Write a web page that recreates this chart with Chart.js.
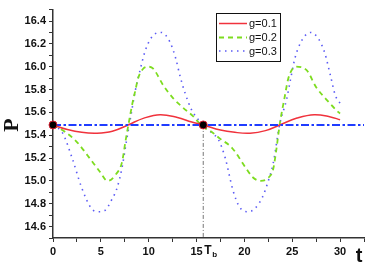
<!DOCTYPE html>
<html>
<head>
<meta charset="utf-8">
<script src="https://cdn.jsdelivr.net/npm/chart.js@4.4.1/dist/chart.umd.min.js"></script>
<style>
html, body { margin: 0; padding: 0; background: #fff; }
canvas { display: block; }
</style>
</head>
<body>
<canvas id="chart" width="382" height="268"></canvas>
<script>
const seriesLabels = ['g=0.1', 'g=0.2', 'g=0.3'];

const tRed = [0, 1.5, 3, 4.6, 6.2, 7.85, 9.5, 11.2, 13, 14.5, 15.7, 17.5, 19, 20.6, 22.2, 23.7, 25.5, 27.3, 29, 30];
const pRed = [15.49, 15.45, 15.425, 15.418, 15.435, 15.49, 15.55, 15.58, 15.555, 15.515, 15.49, 15.445, 15.425, 15.418, 15.44, 15.49, 15.55, 15.58, 15.56, 15.535];

const tGreen = [0, 1.25, 2.5, 4, 4.9, 5.7, 6.6, 7.2, 7.6, 7.9, 8.3, 8.6, 8.9, 9.4, 10, 10.5, 11.5, 12.5, 13.6, 14.6, 15.7, 16.4, 17.45, 18.7, 20.1, 20.9, 21.7, 22.4, 23, 23.3, 23.7, 24.2, 24.6, 25.4, 26.5, 27.5, 28.6, 29.6, 30];
const pGreen = [15.49, 15.43, 15.34, 15.18, 15.08, 15.0, 15.06, 15.16, 15.36, 15.5, 15.68, 15.79, 15.9, 15.98, 16.0, 15.98, 15.84, 15.73, 15.64, 15.57, 15.47, 15.44, 15.37, 15.29, 15.12, 15.03, 15.0, 15.02, 15.1, 15.25, 15.5, 15.73, 15.9, 16.0, 15.97, 15.82, 15.71, 15.62, 15.59];

const tBlue = [0, 1, 2, 3, 4, 4.7, 5.4, 6.1, 6.7, 7.2, 7.7, 8.2, 8.6, 9.1, 9.6, 10.1, 10.7, 11.3, 12.2, 12.8, 13.3, 13.8, 14.5, 15.7, 16.6, 17.3, 18, 18.8, 19.5, 20.3, 21, 21.9, 22.5, 23, 23.7, 24.4, 24.8, 25.3, 26, 26.9, 27.7, 28.4, 29, 29.5, 30];
const pBlue = [15.49, 15.42, 15.2, 14.94, 14.76, 14.73, 14.74, 14.83, 14.94, 15.11, 15.36, 15.6, 15.79, 15.97, 16.13, 16.23, 16.29, 16.3, 16.22, 16.08, 15.91, 15.77, 15.62, 15.49, 15.42, 15.36, 15.2, 14.92, 14.77, 14.73, 14.75, 14.86, 15.0, 15.15, 15.5, 15.71, 15.88, 16.08, 16.23, 16.3, 16.25, 16.12, 15.92, 15.75, 15.68];

const pEquilibrium = 15.49;
const tB = 15.7;
const tMax = 32.5;
const pMin = 14.5, pMax = 16.5;

function pts(ts, ps) {
    return ts.map((t, i) => ({ x: t, y: ps[i] }));
}

const colors = ['#f0323c', '#7ddc1f', '#5b5bf5'];
const dashes = [[], [5, 4], [1.5, 4.5]];
const widths = [1.5, 1.8, 1.6];
const series = [pts(tRed, pRed), pts(tGreen, pGreen), pts(tBlue, pBlue)];

const curveSets = series.map((data, i) => ({
    label: seriesLabels[i],
    data: data,
    borderColor: colors[i],
    borderWidth: widths[i],
    borderDash: dashes[i],
    pointRadius: 0,
    fill: false,
    // red is a plain smooth wave, the others have sharp turns
    tension: 0.4,
    cubicInterpolationMode: i === 0 ? 'default' : 'monotone',
    order: 2 + i
}));

const tickFont = { family: 'Liberation Sans', size: 11, weight: 'bold' };

// legend box, axis titles and the T_b label
const annotations = {
    id: 'annotations',
    afterDraw(chart) {
        const c = chart.ctx;
        c.save();
        // legend
        c.strokeStyle = '#111';
        c.lineWidth = 1;
        c.strokeRect(216.5, 13.5, 64, 48);
        c.font = '11px "Liberation Sans"';
        c.textBaseline = 'middle';
        c.fillStyle = '#111';
        const ys = [23.5, 37.5, 51];
        curveSets.forEach((ds, i) => {
            c.beginPath();
            c.setLineDash(ds.borderDash);
            c.strokeStyle = ds.borderColor;
            c.lineWidth = ds.borderWidth;
            c.moveTo(219, ys[i]);
            c.lineTo(247, ys[i]);
            c.stroke();
            c.fillText(ds.label, 249, ys[i] + 0.5);
        });
        c.setLineDash([]);
        // t
        c.font = 'bold 20px "Liberation Sans"';
        c.textAlign = 'center';
        c.fillText('t', 359, 256);
        // P
        c.save();
        c.translate(11, 125);
        c.rotate(-Math.PI / 2);
        c.font = 'bold 22px "Liberation Serif"';
        c.fillText('P', 0, 1);
        c.restore();
        // T_b
        const x = chart.scales.x.getPixelForValue(tB);
        c.textAlign = 'left';
        c.font = 'bold 12px "Liberation Sans"';
        c.fillText('T', x + 1, 251);
        c.font = 'bold 8px "Liberation Sans"';
        c.fillText('b', x + 9, 255);
        c.restore();
    }
};

new Chart(document.getElementById('chart'), {
    type: 'line',
    data: {
        datasets: [
            {
                data: [{ x: 0, y: pEquilibrium }, { x: tB, y: pEquilibrium }],
                showLine: false,
                pointRadius: 4,
                pointBackgroundColor: '#000',
                pointBorderColor: '#d82030',
                pointBorderWidth: 1,
                clip: false,
                order: 0
            },
            {
                data: [{ x: 0, y: pEquilibrium }, { x: tMax, y: pEquilibrium }],
                borderColor: '#1f3cff',
                borderWidth: 2,
                borderDash: [8, 2.5, 2.5, 2.5],
                pointRadius: 0,
                order: 1
            },
            ...curveSets,
            {
                data: [{ x: tB, y: pEquilibrium }, { x: tB, y: pMin }],
                borderColor: '#777',
                borderWidth: 1,
                borderDash: [4, 2, 1, 2],
                pointRadius: 0,
                order: 6
            }
        ]
    },
    options: {
        responsive: false,
        animation: false,
        devicePixelRatio: 1,
        layout: { padding: { left: 0, right: 18, top: 9, bottom: 0 } },
        plugins: { legend: { display: false }, tooltip: { enabled: false } },
        scales: {
            x: {
                type: 'linear',
                min: 0,
                max: tMax,
                border: { color: '#333', width: 1.5 },
                grid: { drawOnChartArea: false, tickLength: 4, color: '#333' },
                ticks: {
                    stepSize: 2.5,
                    autoSkip: false,
                    maxRotation: 0,
                    padding: 3,
                    color: '#111',
                    font: tickFont,
                    callback: v => (v % 5 === 0 && v <= 30) ? String(v) : ''
                },
                afterFit: s => { s.height = 30; }
            },
            y: {
                min: pMin,
                max: pMax,
                border: { color: '#333', width: 1.5 },
                grid: { drawOnChartArea: false, tickLength: 4, color: '#333' },
                ticks: {
                    stepSize: 0.1,
                    autoSkip: false,
                    padding: 3,
                    color: '#111',
                    font: tickFont,
                    callback: v => {
                        const k = Math.round(v * 10);
                        return (k % 2 === 0 && k >= 146 && k <= 164) ? (k / 10).toFixed(1) : '';
                    }
                },
                afterFit: s => { s.width = 53; }
            }
        }
    },
    plugins: [annotations]
});
</script>
</body>
</html>
